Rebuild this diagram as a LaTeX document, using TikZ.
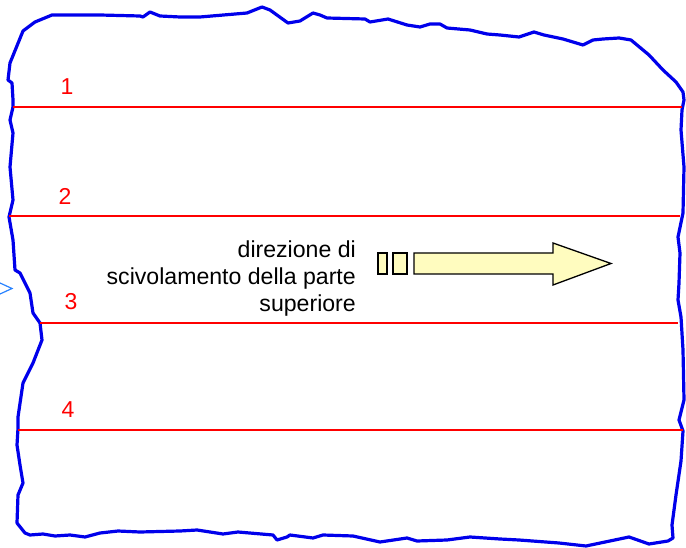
\documentclass[tikz,border=0pt]{standalone}
\usepackage{fontspec}
\setmainfont{Liberation Sans}
\begin{document}
\begin{tikzpicture}[x=1pt,y=-1pt,
  outline/.style={draw=blue!92!black,line width=3.2pt,line join=round,line cap=round},
  layer/.style={draw=red,line width=2pt},
  num/.style={text=red,font=\fontsize{23}{27}\selectfont,inner sep=0pt,anchor=base},
  label/.style={font=\fontsize{23.1}{27}\selectfont,inner sep=0pt,align=right,anchor=base east},
  arrowpart/.style={draw=black,fill=yellow!25,line width=1.3pt,line join=miter}]
\useasboundingbox (0,0) rectangle (686,548);
% freehand outline
\draw[outline] (8,80)--(10,63)--(23,31)--(35,22)--(52,15)--(100,15)--(140,16)--(143,17)--(150,12)--(160,16)--(180,17)--(200,17)--(247,13)--(262,7)--(270,10)--(288,23)--(300,21)--(313,13)--(320,15)--(327,18)--(365,19)--(370,22)--(388,19)--(407,25)--(420,27)--(430,24)--(440,24)--(447,28)--(470,30)--(487,34)--(500,35)--(519,37)--(534,32)--(544,35)--(563,39)--(583,45)--(593,40)--(603,39)--(619,38)--(631,40)--(649,55)--(663,70)--(676,82)--(683,92)--(684,100)--(682,110)--(681,130)--(684,167)--(683,213)--(678,237)--(680,253)--(679,283)--(678,300)--(681,317)--(683,350)--(684,400)--(679,420)--(683,431)--(681,461)--(676,495)--(672,525)--(673,538)--(668,541)--(649,544)--(629,537)--(586,546)--(559,543)--(519,540)--(500,539)--(470,537)--(447,540)--(417,541)--(407,538)--(380,542)--(353,536)--(323,535)--(313,538)--(290,535)--(287,537)--(277,540)--(273,535)--(238,532)--(223,534)--(197,530)--(180,531)--(140,532)--(118,531)--(100,533)--(85,537)--(70,535)--(55,536)--(43,534)--(30,535)--(25,533)--(17,523)--(18,495)--(23,483)--(20,465)--(17,445)--(18,428)--(18,417)--(23,383)--(33,363)--(42,340)--(40,323)--(33,313)--(30,293)--(20,273)--(15,270)--(13,240)--(9,217)--(13,200)--(10,167)--(13,133)--(10,120)--(13,107)--(13,100)--(12,83)--cycle;
% layer lines
\coordinate (l1a) at (13,107);  \coordinate (l1b) at (682,107);
\coordinate (l2a) at (9,216);   \coordinate (l2b) at (680,216);
\coordinate (l3a) at (40,323);  \coordinate (l3b) at (678,323);
\coordinate (l4a) at (18,430);  \coordinate (l4b) at (683,430);
\draw[layer] (l1a) -- (l1b);
\draw[layer] (l2a) -- (l2b);
\draw[layer] (l3a) -- (l3b);
\draw[layer] (l4a) -- (l4b);
\node[num] (n1) at (67,95) {1};
\node[num] (n2) at (65,205) {2};
\node[num] (n3) at (71,310) {3};
\node[num] (n4) at (68,417) {4};
% label
\node[label] (txt) at (356,312) {direzione di\\scivolamento della parte\\superiore};
% arrow
\draw[arrowpart] (378,253) rectangle (387,274);
\draw[arrowpart] (393,253) rectangle (407,274);
\draw[arrowpart] (414,253) -- (553,253) -- (553,243) -- (611,263.5) -- (553,285) -- (553,274) -- (414,274) -- cycle;
% partial blue chevron at left edge
\draw[draw={rgb,255:red,40;green,130;blue,255},line width=1.2pt] (0,283) -- (12,288.5) -- (0,294);
\end{tikzpicture}
\end{document}
